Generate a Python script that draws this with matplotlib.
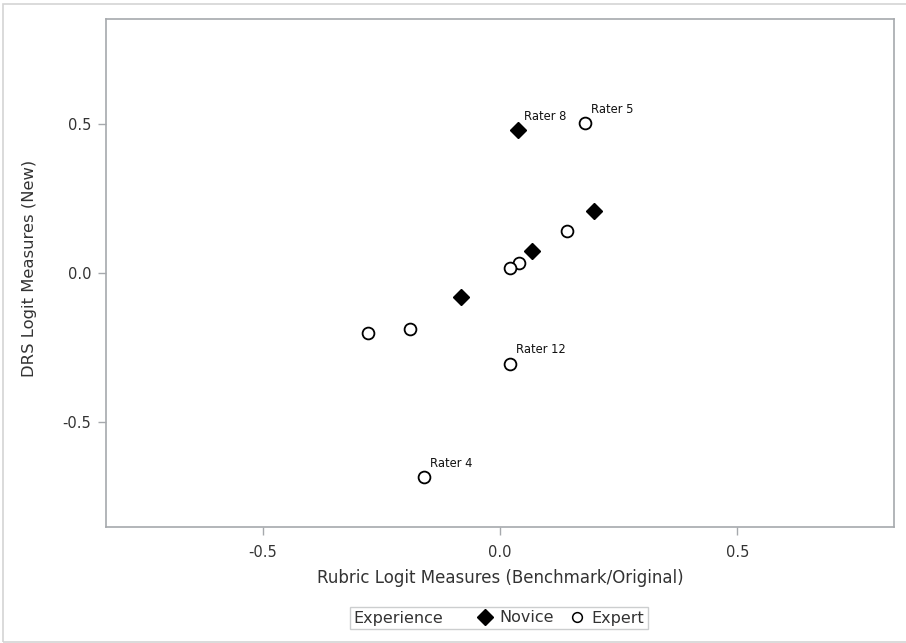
import matplotlib
matplotlib.use("Agg")
import matplotlib.pyplot as plt
from matplotlib.lines import Line2D
from matplotlib.patches import Rectangle
from matplotlib.offsetbox import HPacker

plt.rcParams['font.family'] = ['DejaVu Sans']

# Data
novice_x = [0.037, 0.199, 0.068, -0.083]
novice_y = [0.477, 0.206, 0.072, -0.079]
novice_lbl = ["Rater 8", "", "", ""]

expert_x = [0.180, 0.142, 0.039, 0.022, -0.190, -0.279, 0.022, -0.161]
expert_y = [0.503, 0.139, 0.035, 0.018, -0.189, -0.202, -0.303, -0.684]
expert_lbl = ["Rater 5", "", "", "", "", "", "Rater 12", "Rater 4"]

xticks = [-0.5, 0.0, 0.5]
yticks = [-0.5, 0.0, 0.5]

fig = plt.figure(figsize=(9.06, 6.43), dpi=100)
ax = fig.add_axes([106/906, 1-527/643, (894-106)/906, (527-19)/643])

ax.plot(novice_x, novice_y, linestyle='none', marker='D', ms=8, color='black', zorder=3)
ax.plot(expert_x, expert_y, linestyle='none', marker='o', ms=8.5, mfc='white',
        mec='black', mew=1.3, zorder=3)

for xs, ys, ls in [(novice_x, novice_y, novice_lbl), (expert_x, expert_y, expert_lbl)]:
    for x, y, l in zip(xs, ys, ls):
        if l:
            ax.annotate(l, (x, y), xytext=(4.3, 9.8), textcoords='offset points',
                        ha='left', va='center', fontsize=8.3, color='#111111')

ax.set_xlim(-0.83, 0.83)
ax.set_ylim(-0.85, 0.85)
ax.set_xticks(xticks)
ax.set_yticks(yticks)
ax.set_xticklabels([f"{t:.1f}" for t in xticks])
ax.set_yticklabels([f"{t:.1f}" for t in yticks])

frame = '#a6a9ad'
for s in ax.spines.values():
    s.set_color(frame)
    s.set_linewidth(1.2)
ax.tick_params(direction='out', length=6, width=1, color=frame, labelcolor='#333333',
               labelsize=10.5)
ax.tick_params(axis='x', pad=7)
ax.tick_params(axis='y', pad=4.5)

ax.set_xlabel("Rubric Logit Measures (Benchmark/Original)", fontsize=12, color='#333333')
ax.set_ylabel("DRS Logit Measures (New)", fontsize=11.8, color='#333333')
ax.xaxis.label.set_va('center')
ax.yaxis.label.set_va('center')
ax.xaxis.set_label_coords(0.5, (527-578)/508)
ax.yaxis.set_label_coords((30-106)/788, 0.51)

handles = [Line2D([], [], linestyle='none', marker='D', ms=8, color='black'),
           Line2D([], [], linestyle='none', marker='o', ms=7, mfc='white', mec='black', mew=1.1)]
leg = fig.legend(handles, ['Novice', 'Expert'], title='Experience', ncol=2,
                 loc='center', bbox_to_anchor=(499/906, 1-618/643),
                 frameon=True, fancybox=False, fontsize=11.5, title_fontsize=11.5,
                 handlelength=1.0, handletextpad=0.45, columnspacing=0.9,
                 borderpad=0.22, borderaxespad=0)
leg.get_frame().set_edgecolor('#c0c2c4')
leg.get_frame().set_linewidth(1)
leg.get_title().set_color('#333333')
for t in leg.get_texts():
    t.set_color('#333333')
vp = leg._legend_box
children = vp.get_children()
leg._legend_box = HPacker(pad=vp.pad, sep=24, align='center', children=children)
leg._legend_box.set_figure(fig)
leg._legend_box.set_offset(leg._findoffset)

fig.patches.append(Rectangle((3/906, 1/643), 1.0, 1 - 5/643, transform=fig.transFigure,
                             fill=False, edgecolor='#d4d4d4', linewidth=1.2))

fig.savefig("out.png", dpi=100)
